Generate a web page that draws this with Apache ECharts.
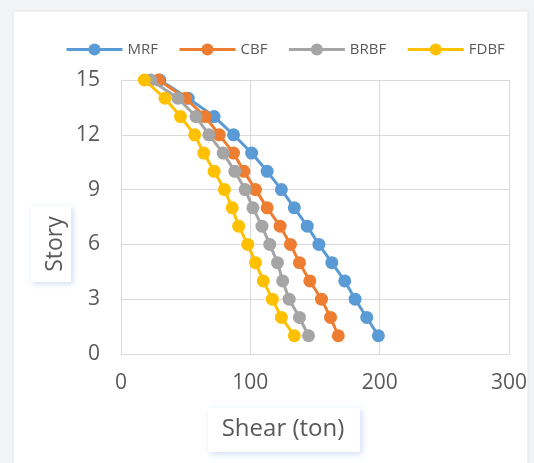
<!DOCTYPE html>
<html><head><meta charset="utf-8">
<script src="https://cdn.jsdelivr.net/npm/echarts@6/dist/echarts.min.js"></script>
<style>html,body{margin:0;padding:0;background:#f2f3f4;}#c{width:534px;height:463px;}</style>
</head><body><div id="c"></div>
<script>
const stories = [1,2,3,4,5,6,7,8,9,10,11,12,13,14,15];
const MRF  = [199,190,181,173,163,153,144,134,124,113,101,87,72,52,30];
const CBF  = [168,162,155,146,138,131,123,113,104,95,87,76,65,50,29];
const BRBF = [145,138,130,125,121,115,109,102,96,88,79,68,58,44,23];
const FDBF = [134,124,117,110,104,98,91,86,80,72,64,57,46,34,18];
const seriesNames = ['MRF','CBF','BRBF','FDBF'];
const seriesData = [MRF,CBF,BRBF,FDBF];
const colors = ['#5B9BD5','#ED7D31','#A5A5A5','#FFC000'];
const font = '"Open Sans", sans-serif';

const chart = echarts.init(document.getElementById('c'));
chart.setOption({
  animation:false,
  backgroundColor:'transparent',
  color: colors,
  graphic:[
    {type:'rect', shape:{x:13,y:11,width:515,height:460}, style:{fill:'#fff', stroke:'#e3e4e6', lineWidth:1}, z:-10},
    {type:'rect', shape:{x:31,y:206,width:40,height:76}, style:{fill:'#fff', shadowBlur:6, shadowColor:'rgba(120,160,220,0.35)', shadowOffsetX:2, shadowOffsetY:2}, z:-5},
    {type:'text', x:55, y:244, rotation:Math.PI/2, style:{text:'Story', font:'23px '+font, fill:'#595959', align:'center', verticalAlign:'middle'}},
    {type:'rect', shape:{x:208,y:408,width:152,height:44}, style:{fill:'#fff', shadowBlur:6, shadowColor:'rgba(120,160,220,0.35)', shadowOffsetX:2, shadowOffsetY:2}, z:-5},
    {type:'text', x:283, y:429, style:{text:'Shear (ton)', font:'24px '+font, fill:'#595959', align:'center', verticalAlign:'middle'}}
  ],
  legend:{
    top:37, left:60,
    itemWidth:56, itemHeight:15, itemGap:20,
    lineStyle:{width:3},
    textStyle:{fontFamily:font, fontSize:15, color:'#595959'},
    data: seriesNames
  },
  grid:{left:121, right:25, top:80, bottom:109},
  xAxis:{
    type:'value', min:0, max:300, interval:100,
    axisLine:{show:true, lineStyle:{color:'#d9d9d9'}},
    axisTick:{show:false},
    splitLine:{show:true, lineStyle:{color:'#d9d9d9', width:1}},
    axisLabel:{fontFamily:font, fontSize:21, color:'#595959', margin:19}
  },
  yAxis:{
    type:'value', min:0, max:15, interval:3,
    axisLine:{show:true, lineStyle:{color:'#d9d9d9'}},
    axisTick:{show:false},
    splitLine:{show:true, lineStyle:{color:'#d9d9d9', width:1}},
    axisLabel:{fontFamily:font, fontSize:21, color:'#595959', margin:21}
  },
  series: seriesNames.map((n,i)=>({
    name:n, type:'line',
    data: seriesData[i].map((v,j)=>[v, stories[j]]),
    symbol:'circle', symbolSize:13,
    lineStyle:{width:3, color:colors[i]},
    itemStyle:{color:colors[i]},
    z: 2+i
  }))
});
</script></body></html>
